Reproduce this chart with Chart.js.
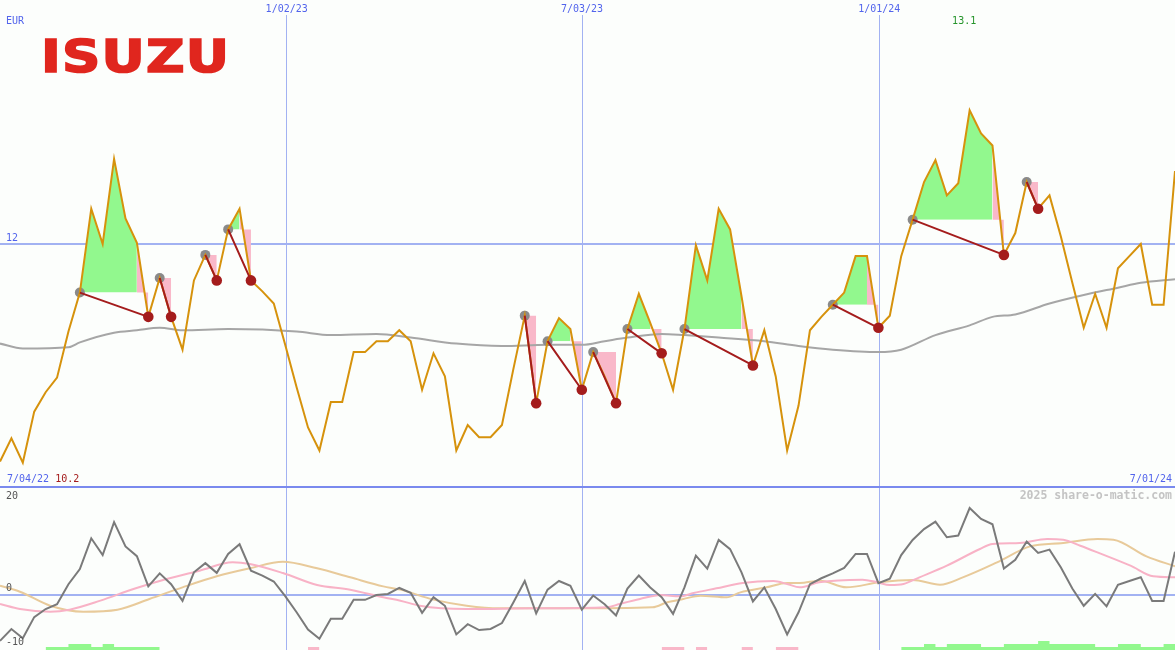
<!DOCTYPE html>
<html>
<head>
<meta charset="utf-8">
<script src="https://cdn.jsdelivr.net/npm/chart.js@4.4.1/dist/chart.umd.min.js"></script>
<style>
  html, body { margin: 0; padding: 0; background: #fcfefc; }
  #wrap { position: relative; width: 1175px; height: 650px; overflow: hidden; }
  canvas { position: absolute; left: 0; }
  #top { top: 0; }
  #bottom { top: 486px; }
</style>
</head>
<body>
<div id="wrap">
  <canvas id="top" width="1175" height="486"></canvas>
  <canvas id="bottom" width="1175" height="164"></canvas>
</div>
<script>
// PRICE (EUR), one point per week
const prices = [10.21, 10.40, 10.20, 10.62, 10.78, 10.90, 11.28, 11.60, 12.29, 12.00,
    12.70, 12.21, 12.01, 11.40, 11.72, 11.40, 11.13, 11.70, 11.91, 11.70,
    12.12, 12.29, 11.70, 11.61, 11.51, 11.17, 10.82, 10.49, 10.30, 10.70,
    10.70, 11.11, 11.11, 11.20, 11.20, 11.29, 11.20, 10.80, 11.10, 10.91,
    10.30, 10.51, 10.41, 10.41, 10.51, 10.97, 11.41, 10.69, 11.20, 11.39,
    11.30, 10.80, 11.11, 10.91, 10.69, 11.30, 11.59, 11.35, 11.10, 10.80,
    11.30, 11.99, 11.70, 12.29, 12.12, 11.57, 11.00, 11.29, 10.91, 10.30,
    10.67, 11.29, 11.40, 11.50, 11.60, 11.90, 11.90, 11.31, 11.41, 11.90,
    12.20, 12.51, 12.69, 12.40, 12.50, 13.10, 12.91, 12.81, 11.91, 12.09,
    12.51, 12.29, 12.40, 12.06, 11.68, 11.31, 11.59, 11.31, 11.80, 11.90,
    12.00, 11.50, 11.50, 12.60];

// moving average, read at some weeks
const maWeeks = [0, 2, 6, 7, 10, 12, 14, 16, 20, 26, 29, 33, 36, 40, 44, 48, 51, 53, 55, 58,
    60, 63, 67, 70, 73, 77, 79, 82, 85, 87, 89, 92, 95, 98, 100, 103];
const maValues = [11.18, 11.14, 11.15, 11.19, 11.27, 11.29, 11.31, 11.29, 11.30, 11.28,
    11.25, 11.26, 11.23, 11.18, 11.16, 11.17, 11.17, 11.20, 11.23, 11.26,
    11.25, 11.23, 11.20, 11.16, 11.13, 11.11, 11.13, 11.25, 11.33, 11.40,
    11.42, 11.51, 11.58, 11.64, 11.68, 11.71];

// trades: [start week, last week of green area, end week]
const trades = [[7, 12, 13], [14, 14, 15], [18, 18, 19], [20, 21, 22], [46, 46, 47], [48, 50, 51],
    [52, 52, 54], [55, 57, 58], [60, 65, 66], [73, 76, 77], [80, 87, 88], [90, 90, 91]];

// date lines
const dateLabels = ['1/02/23', '7/03/23', '1/01/24'];
const dateWeeks = [25.13, 51.02, 77.08];
const firstDate = '7/04/22';
const lastDate = '7/01/24';
const priceLevel = 12;

// LOWER PANEL
const momentum = [-8.5, -6.3, -8, -4.1, -2.6, -1.7, 2, 4.8, 10.5, 7.4,
    13.5, 9, 7.2, 1.6, 4, 2, -1.1, 4.2, 5.9, 4.1,
    7.6, 9.4, 4.5, 3.6, 2.5, -0.2, -3.2, -6.4, -8.1, -4.4,
    -4.4, -0.9, -0.9, 0, 0.2, 1.3, 0.4, -3.3, -0.4, -2,
    -7.3, -5.4, -6.5, -6.3, -5.2, -1.4, 2.6, -3.4, 1, 2.6,
    1.7, -2.7, -0.1, -1.7, -3.8, 1.2, 3.6, 1.4, -0.4, -3.5,
    1.4, 7.3, 4.9, 10.2, 8.5, 4.2, -1.2, 1.4, -2.6, -7.3,
    -3.2, 2, 3.1, 4, 5, 7.6, 7.6, 2.2, 3, 7.4,
    10.2, 12.2, 13.6, 10.7, 11, 16.1, 14.1, 13.1, 4.9, 6.5,
    9.9, 7.8, 8.4, 5.1, 1.2, -2, 0.2, -2.1, 1.9, 2.6,
    3.3, -1.1, -1.1, 8];
const pinkWeeks = [0, 1.75, 4.4, 6.1, 8.8, 11.7, 14.6, 17.5, 20.4, 21.9, 24.8, 27.8, 30.7, 33.6, 35.1,
    36.8, 40.9, 46.7, 53.2, 54.3, 56.1, 57.9, 59.6, 60.8, 62.8, 65.1, 67.8, 69, 70.1,
    71.8, 75.6, 76.9, 78, 79.2, 80.6, 83, 85.9, 87, 89.4, 91.8, 93.2, 94.7, 96.2, 99.1, 101.1, 103];
const pinkValues = [-1.67, -2.6, -3.09, -2.72, -1.05, 1.1, 2.96, 4.5, 6.05, 5.74, 4.07, 1.85, 0.99, -0.43, -1.05,
    -2.0, -2.6, -2.47, -2.28, -1.67, -0.74, 0, -0.25, 0.37, 1.23, 2.22, 2.6, 2.04, 1.42,
    2.35, 2.84, 2.35, 1.85, 2.04, 3.27, 5.43, 8.52, 9.44, 9.63, 10.37, 10.25, 9.13, 7.9, 5.43, 3.46, 3.27];
const tanWeeks = [0, 1.75, 4.4, 7.3, 10.3, 13.1, 16, 19, 21.9, 24.8, 27.8, 30.7, 33.6, 35.1,
    38, 40.9, 43.8, 49.7, 57.2, 58.5, 59.9, 61.4, 63.7, 64.9, 67.2, 69, 70.1,
    71.9, 74.2, 77.1, 80, 82.4, 84.4, 87.4, 90.3, 93.2, 96.2, 97.6, 100.5, 103];
const tanValues = [1.72, 0.61, -1.98, -3.09, -2.72, -0.74, 1.42, 3.46, 4.94, 6.17, 4.94, 3.27, 1.6, 0.99,
    -0.86, -1.98, -2.47, -2.47, -2.28, -1.35, -0.74, -0.12, -0.43, 0.49, 1.42, 2.22, 2.22,
    2.66, 1.42, 2.35, 2.78, 1.91, 3.27, 6.05, 9.01, 9.63, 10.37, 10.25, 7.16, 5.31];
// signal bars: [from week, to week, height]
const greenRuns = [[4, 6, 1], [6, 8, 2], [8, 9, 1], [9, 10, 2], [10, 14, 1],
    [79, 81, 1], [81, 82, 2], [82, 83, 1], [83, 86, 2], [86, 88, 1], [88, 91, 2], [91, 92, 3],
    [92, 96, 2], [96, 98, 1], [98, 100, 2], [100, 102, 1], [102, 103, 2]];
const pinkRuns = [[27, 28, 1], [58, 60, 1], [61, 62, 1], [65, 66, 1], [68, 70, 1]];

// COLOURS
const blueText = '#5264ec';
const gridBlue = '#a2b2f2';
const green = '#92f88e';
const pink = '#f9b8c9';
const darkRed = '#a41c1c';
const mono = '"DejaVu Sans Mono", monospace';

function pts(xs, ys) { return xs.map((x, i) => ({x: x, y: ys[i]})); }
function weekPts(from, to) {
    const out = [];
    for (let i = from; i <= to; i++) out.push({x: i, y: prices[i]});
    return out;
}
function runsToPoints(runs) {
    const out = [];
    runs.forEach((r, k) => {
        if (k > 0 && runs[k - 1][1] !== r[0]) out.push({x: r[0], y: null});
        out.push({x: r[0], y: r[2]}, {x: r[1], y: r[2]});
    });
    return out;
}

// lines of the dates, and the level line, under the data
const frame = {
    id: 'frame',
    beforeDatasetsDraw(chart, args, opts) {
        const {ctx, chartArea, scales: {x, y}} = chart;
        ctx.save();
        ctx.strokeStyle = gridBlue;
        ctx.lineWidth = 1;
        dateWeeks.forEach(w => {
            const px = Math.floor(x.getPixelForValue(w)) + 0.5;
            ctx.beginPath();
            ctx.moveTo(px, chartArea.top + (opts.lineTop || 0));
            ctx.lineTo(px, chartArea.bottom);
            ctx.stroke();
        });
        ctx.lineWidth = 2;
        const py = Math.round(y.getPixelForValue(opts.level));
        ctx.beginPath();
        ctx.moveTo(chartArea.left, py);
        ctx.lineTo(chartArea.right, py);
        ctx.stroke();
        if (opts.separator) {
            ctx.fillStyle = '#7a8aee';
            ctx.fillRect(chartArea.left, 0, chartArea.right - chartArea.left, 2);
        }
        ctx.restore();
    }
};

const topText = {
    id: 'topText',
    afterDraw(chart) {
        const {ctx, scales: {x, y}} = chart;
        ctx.save();
        // logo
        ctx.font = 'bold 45px "DejaVu Sans"';
        ctx.letterSpacing = '1px';
        const w = ctx.measureText('ISUZU').width - 1;
        ctx.translate(41, 72);
        ctx.scale(188 / w, 1);
        ctx.fillStyle = '#e0261e';
        ctx.strokeStyle = '#e0261e';
        ctx.lineWidth = 1.6;
        ctx.lineJoin = 'miter';
        ctx.textBaseline = 'alphabetic';
        ctx.fillText('ISUZU', 0, 0);
        ctx.strokeText('ISUZU', 0, 0);
        ctx.restore();

        ctx.save();
        ctx.letterSpacing = '0px';
        ctx.font = '10px ' + mono;
        ctx.textBaseline = 'middle';
        ctx.fillStyle = blueText;
        ctx.textAlign = 'left';
        ctx.fillText('EUR', 6, 21);
        ctx.fillText(String(priceLevel), 6, y.getPixelForValue(priceLevel) - 6);
        ctx.fillText(firstDate, 7, 479);
        const w1 = ctx.measureText(firstDate + ' ').width;
        ctx.textAlign = 'right';
        ctx.fillText(lastDate, 1172, 479);
        ctx.textAlign = 'center';
        dateWeeks.forEach((wk, i) => ctx.fillText(dateLabels[i], x.getPixelForValue(wk), 9));
        // min and max
        const lo = Math.min(...prices), hi = Math.max(...prices);
        ctx.textAlign = 'left';
        ctx.fillStyle = darkRed;
        ctx.fillText(lo.toFixed(1), 7 + w1, 479);
        ctx.textAlign = 'center';
        ctx.fillStyle = '#24942a';
        ctx.fillText(hi.toFixed(1), x.getPixelForValue(prices.indexOf(hi)) - 5.5, 21);
        ctx.restore();
    }
};

const bottomText = {
    id: 'bottomText',
    afterDraw(chart) {
        const {ctx, scales: {y}} = chart;
        ctx.save();
        ctx.textBaseline = 'middle';
        ctx.font = 'bold 11.5px ' + mono;
        ctx.fillStyle = '#c4c4c4';
        ctx.textAlign = 'right';
        ctx.fillText('2025 share-o-matic.com', 1172, 10);
        ctx.font = '10px ' + mono;
        ctx.fillStyle = '#555555';
        ctx.textAlign = 'left';
        ctx.fillText('20', 6, 10);
        ctx.fillText('0', 6, y.getPixelForValue(0) - 6.5);
        ctx.fillText('-10', 6, 156);
        ctx.restore();
    }
};

// TOP CHART
const topSets = [];
topSets.push({
    data: trades.map(t => ({x: t[2], y: prices[t[2]]})),
    showLine: false, pointRadius: 5.3, pointBackgroundColor: darkRed, pointBorderWidth: 0, order: 0
});
const tradeLine = [];
trades.forEach(t => {
    tradeLine.push({x: t[0], y: prices[t[0]]}, {x: t[2], y: prices[t[2]]}, {x: t[2], y: null});
});
topSets.push({data: tradeLine, borderColor: darkRed, borderWidth: 2, order: 1});
topSets.push({data: weekPts(0, prices.length - 1), borderColor: '#d6920c', borderWidth: 2, order: 2});
topSets.push({
    data: trades.map(t => ({x: t[0], y: prices[t[0]]})),
    showLine: false, pointRadius: 5, pointBackgroundColor: '#8a8a8a', pointBorderWidth: 0, order: 3
});
topSets.push({
    data: pts(maWeeks, maValues), borderColor: '#a6a6a6', borderWidth: 2,
    cubicInterpolationMode: 'monotone', order: 4
});
trades.forEach(t => {
    const lvl = prices[t[0]];
    if (t[1] > t[0]) {
        topSets.push({
            data: weekPts(t[0], t[1]), borderColor: 'transparent', borderWidth: 0,
            fill: {target: {value: lvl}, above: green, below: 'transparent'}, order: 5
        });
    }
    topSets.push({
        data: weekPts(t[1], t[2]), borderColor: 'transparent', borderWidth: 0,
        fill: {target: {value: lvl}, above: pink, below: pink}, order: 6
    });
});

const baseOptions = {
    responsive: false,
    animation: false,
    devicePixelRatio: 1,
    events: [],
    layout: {padding: 0, autoPadding: false},
    elements: {point: {radius: 0, hoverRadius: 0}, line: {tension: 0}}
};

new Chart(document.getElementById('top'), {
    type: 'line',
    data: {datasets: topSets},
    options: Object.assign({}, baseOptions, {
        plugins: {legend: {display: false}, tooltip: {enabled: false}, frame: {level: priceLevel, lineTop: 15}},
        scales: {
            x: {type: 'linear', min: 0, max: prices.length - 1, display: false},
            y: {min: 10.008, max: 14.008, display: false}
        }
    }),
    plugins: [frame, topText]
});

// BOTTOM CHART
new Chart(document.getElementById('bottom'), {
    type: 'line',
    data: {
        datasets: [
            {data: pts(momentum.map((v, i) => i), momentum), borderColor: '#7a7a7a', borderWidth: 2, order: 0},
            {data: pts(pinkWeeks, pinkValues), borderColor: '#f8b2c6', borderWidth: 2,
                cubicInterpolationMode: 'monotone', order: 1},
            {data: pts(tanWeeks, tanValues), borderColor: '#e8ca9a', borderWidth: 2,
                cubicInterpolationMode: 'monotone', order: 2},
            {data: runsToPoints(greenRuns), yAxisID: 'yh', borderColor: 'transparent', borderWidth: 0,
                backgroundColor: green, fill: 'origin', order: 3},
            {data: runsToPoints(pinkRuns), yAxisID: 'yh', borderColor: 'transparent', borderWidth: 0,
                backgroundColor: pink, fill: 'origin', order: 3}
        ]
    },
    options: Object.assign({}, baseOptions, {
        plugins: {legend: {display: false}, tooltip: {enabled: false}, frame: {level: 0, separator: true}},
        scales: {
            x: {type: 'linear', min: 0, max: prices.length - 1, display: false},
            y: {min: -10.19, max: 20.19, display: false},
            yh: {min: 0, max: 164 / 3, display: false}
        }
    }),
    plugins: [frame, bottomText]
});
</script>
</body>
</html>
